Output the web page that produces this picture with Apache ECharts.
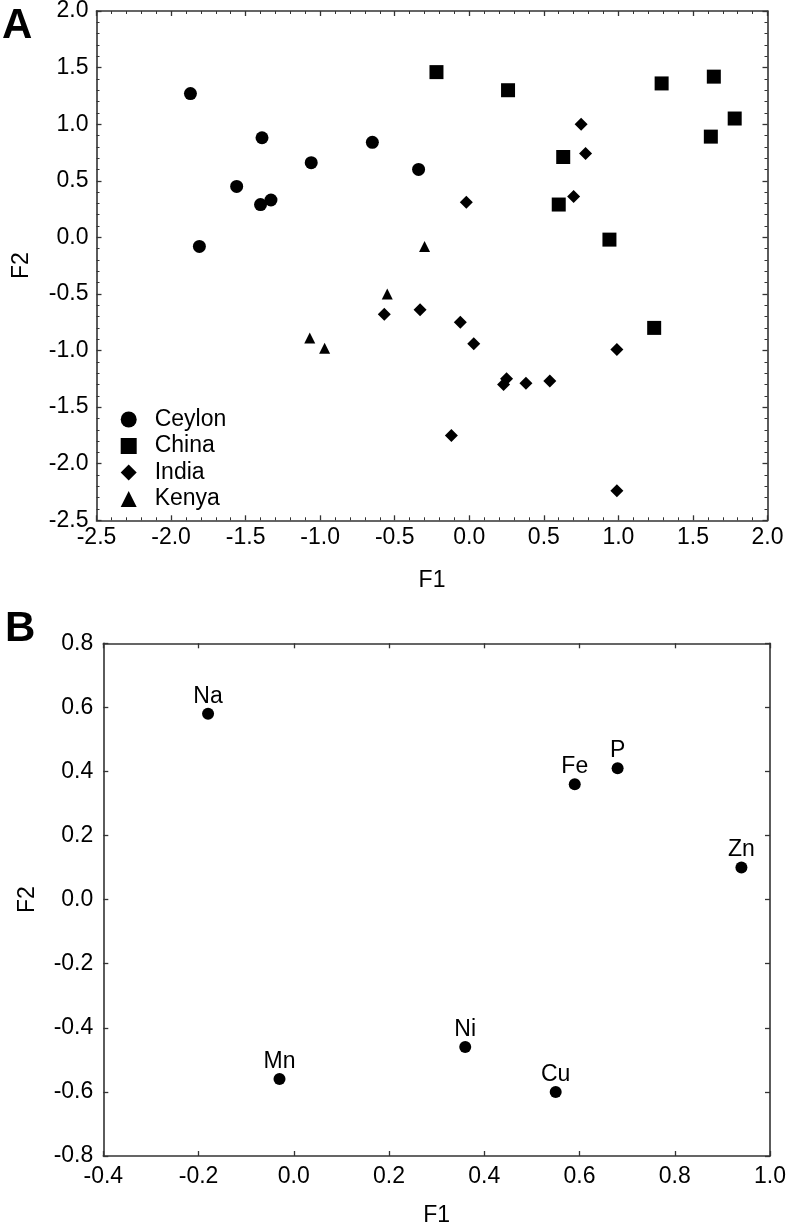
<!DOCTYPE html>
<html><head><meta charset="utf-8">
<script src="https://cdn.jsdelivr.net/npm/echarts@6/dist/echarts.min.js"></script>
<style>html,body{margin:0;padding:0;background:#fff}#c{width:788px;height:1227px}</style>
</head><body><div id="c"></div>
<script>
// ---- Panel A data (F1, F2 scores) ----
const ceylonF1 = [-1.87, -1.81, -1.56, -1.39, -1.40, -1.33, -1.06, -0.65, -0.34];
const ceylonF2 = [1.27, -0.08, 0.45, 0.88, 0.29, 0.33, 0.66, 0.84, 0.60];
const chinaF1 = [-0.22, 0.26, 0.63, 0.60, 0.94, 1.29, 1.64, 1.62, 1.78, 1.24];
const chinaF2 = [1.46, 1.30, 0.71, 0.29, -0.02, 1.36, 1.42, 0.89, 1.05, -0.80];
const indiaF1 = [0.75, 0.78, 0.70, -0.02, -0.57, -0.33, -0.06, 0.03, 0.25, 0.23, 0.38, 0.54, 0.99, -0.12, 0.99];
const indiaF2 = [1.00, 0.74, 0.36, 0.31, -0.68, -0.64, -0.75, -0.94, -1.25, -1.30, -1.29, -1.27, -0.99, -1.75, -2.24];
const kenyaF1 = [-0.30, -0.55, -1.07, -0.97];
const kenyaF2 = [-0.08, -0.50, -0.89, -0.98];
const groupNames = ['Ceylon', 'China', 'India', 'Kenya'];

// ---- Panel B data (loadings) ----
const elements = ['Na', 'Fe', 'P', 'Zn', 'Mn', 'Ni', 'Cu'];
const elemF1 = [-0.18, 0.59, 0.68, 0.94, -0.03, 0.36, 0.55];
const elemF2 = [0.58, 0.36, 0.41, 0.10, -0.56, -0.46, -0.60];

// ---- axis ranges / ticks ----
const axA = { min: -2.5, max: 2.0, interval: 0.5 };
const ayA = { min: -2.5, max: 2.0, interval: 0.5 };
const axB = { min: -0.4, max: 1.0, interval: 0.2 };
const ayB = { min: -0.8, max: 0.8, interval: 0.2 };

const FONT = '"Liberation Sans", Arial, sans-serif';
const FS = 23;
const AXC = '#333';
const TXT = '#000';
const fmt1 = v => (Math.abs(v) < 1e-9 ? 0 : v).toFixed(1);
const zip = (a, b) => a.map((v, i) => [v, b[i]]);

function axis(gridIndex, pos, rng, opts) {
  const o = {
    type: 'value', gridIndex, position: pos,
    min: rng.min, max: rng.max, interval: rng.interval,
    splitLine: { show: false },
    axisLine: { show: true, onZero: false, lineStyle: { color: AXC, width: 1.6 } },
    axisTick: { show: true, inside: true, length: 5, lineStyle: { color: AXC, width: 1.3 } },
    minorTick: { show: !!opts.minor, splitNumber: 5, length: 3, lineStyle: { color: AXC, width: 1 } },
    axisLabel: {
      show: !!opts.label, formatter: fmt1, color: TXT,
      fontFamily: FONT, fontSize: FS, margin: opts.margin || 8
    }
  };
  if (opts.name) {
    o.name = opts.name;
    o.nameLocation = 'middle';
    o.nameGap = opts.nameGap;
    o.nameTextStyle = { color: TXT, fontFamily: FONT, fontSize: FS };
  }
  return o;
}

const mk = { color: '#000', opacity: 1 };

const option = {
  animation: false,
  backgroundColor: '#fff',
  grid: [
    { left: 96.5, top: 11, right: 20.5, bottom: 706.7, containLabel: false, outerBoundsMode: 'none' },
    { left: 103.3, top: 643.3, right: 18, bottom: 71, containLabel: false, outerBoundsMode: 'none' }
  ],
  xAxis: [
    axis(0, 'bottom', axA, { label: true, minor: true, margin: 6, name: 'F1', nameGap: 49 }),
    axis(0, 'top', axA, { label: false, minor: true }),
    axis(1, 'bottom', axB, { label: true, minor: false, margin: 9, name: 'F1', nameGap: 48 }),
    axis(1, 'top', axB, { label: false, minor: false })
  ],
  yAxis: [
    axis(0, 'left', ayA, { label: true, minor: true, margin: 8, name: 'F2', nameGap: 63 }),
    axis(0, 'right', ayA, { label: false, minor: true }),
    axis(1, 'left', ayB, { label: true, minor: false, margin: 10, name: 'F2', nameGap: 64 }),
    axis(1, 'right', ayB, { label: false, minor: false })
  ],
  legend: {
    orient: 'vertical', left: 120.7, top: 408, padding: 0,
    itemWidth: 16, itemHeight: 16, itemGap: 3.5,
    data: groupNames,
    itemStyle: { opacity: 1 },
    textStyle: { color: TXT, fontFamily: FONT, fontSize: FS, lineHeight: 22, padding: [0, 0, 0, 13] }
  },
  series: [
    { name: groupNames[0], type: 'scatter', xAxisIndex: 0, yAxisIndex: 0, symbol: 'circle', symbolSize: 13,
      itemStyle: mk, data: zip(ceylonF1, ceylonF2) },
    { name: groupNames[1], type: 'scatter', xAxisIndex: 0, yAxisIndex: 0, symbol: 'rect', symbolSize: 14,
      itemStyle: mk, data: zip(chinaF1, chinaF2) },
    { name: groupNames[2], type: 'scatter', xAxisIndex: 0, yAxisIndex: 0, symbol: 'diamond', symbolSize: 13,
      itemStyle: mk, data: zip(indiaF1, indiaF2) },
    { name: groupNames[3], type: 'scatter', xAxisIndex: 0, yAxisIndex: 0, symbol: 'triangle', symbolSize: 11,
      itemStyle: mk, data: zip(kenyaF1, kenyaF2) },
    { name: 'Elements', type: 'scatter', xAxisIndex: 2, yAxisIndex: 2, symbol: 'circle', symbolSize: 12,
      itemStyle: mk,
      label: { show: true, position: 'top', distance: 0, color: TXT, opacity: 1, fontFamily: FONT, fontSize: FS,
        formatter: p => p.name },
      data: elements.map((n, i) => ({ name: n, value: [elemF1[i], elemF2[i]] })) }
  ],
  graphic: [
    { type: 'text', left: 2, top: 5, style: { text: 'A', fill: '#000', font: 'bold 42px "Liberation Sans", Arial, sans-serif' } },
    { type: 'text', left: 5, top: 608, style: { text: 'B', fill: '#000', font: 'bold 42px "Liberation Sans", Arial, sans-serif' } }
  ]
};

const chart = echarts.init(document.getElementById('c'), null, { renderer: 'canvas' });
chart.setOption(option);
</script></body></html>
